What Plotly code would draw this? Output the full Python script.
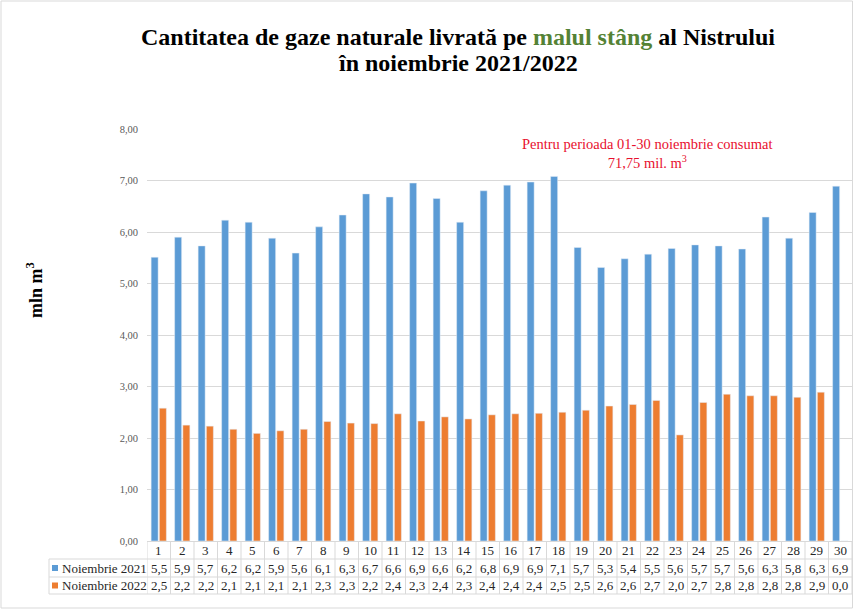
import plotly.graph_objects as go

days = list(range(1, 31))
nov_2021 = [5.51, 5.90, 5.73, 6.23, 6.19, 5.88, 5.59, 6.10, 6.33, 6.74,
            6.68, 6.95, 6.65, 6.19, 6.80, 6.91, 6.97, 7.08, 5.70, 5.31,
            5.48, 5.57, 5.68, 5.75, 5.73, 5.67, 6.29, 5.88, 6.38, 6.89]
nov_2022 = [2.58, 2.25, 2.23, 2.17, 2.09, 2.14, 2.17, 2.32, 2.29, 2.28,
            2.47, 2.33, 2.41, 2.37, 2.45, 2.47, 2.48, 2.50, 2.54, 2.62,
            2.65, 2.73, 2.06, 2.69, 2.85, 2.82, 2.82, 2.79, 2.89, 0.0]
table_2021 = ["5,5", "5,9", "5,7", "6,2", "6,2", "5,9", "5,6", "6,1", "6,3", "6,7",
              "6,6", "6,9", "6,6", "6,2", "6,8", "6,9", "6,9", "7,1", "5,7", "5,3",
              "5,4", "5,5", "5,6", "5,7", "5,7", "5,6", "6,3", "5,8", "6,3", "6,9"]
table_2022 = ["2,5", "2,2", "2,2", "2,1", "2,1", "2,1", "2,1", "2,3", "2,3", "2,2",
              "2,4", "2,3", "2,4", "2,3", "2,4", "2,4", "2,4", "2,5", "2,5", "2,6",
              "2,6", "2,7", "2,0", "2,7", "2,8", "2,8", "2,8", "2,8", "2,9", "0,0"]
series_names = ["Noiembrie 2021", "Noiembrie 2022"]
y_ticks = [0, 1, 2, 3, 4, 5, 6, 7, 8]

BLUE = "#5B9BD5"
ORANGE = "#ED7D31"
FONT = "Liberation Serif"

# pixel geometry
L, R, T, B = 147, 3, 129, 72
W, H = 855, 613
PW = W - L - R
PH = H - T - B


def px(p):
    return (p - L) / PW


def py(p):
    return (H - B - p) / PH


fig = go.Figure()
fig.add_trace(go.Bar(x=days, y=nov_2021, name=series_names[0], marker_color=BLUE))
fig.add_trace(go.Bar(x=days, y=nov_2022, name=series_names[1], marker_color=ORANGE))

shapes = []
grid = "#D9D9D9"
row_top = py(H - B)
row1 = py(559)
row2 = py(577)
row3 = py(594)
left_edge = px(49)
for yy in (row1, row2, row3):
    shapes.append(dict(type="line", xref="paper", yref="paper", x0=left_edge, x1=1, y0=yy, y1=yy,
                       line=dict(color=grid, width=1)))
for d in [0] + days:
    shapes.append(dict(type="line", xref="x", yref="paper", x0=d + 0.5, x1=d + 0.5, y0=row_top, y1=row3,
                       line=dict(color=grid, width=1)))
shapes.append(dict(type="line", xref="paper", yref="paper", x0=left_edge, x1=left_edge, y0=row1, y1=row3,
                   line=dict(color=grid, width=1)))
for i, col in enumerate([BLUE, ORANGE]):
    yc = (row1 + row2) / 2 if i == 0 else (row2 + row3) / 2
    shapes.append(dict(type="rect", xref="paper", yref="paper", x0=px(52), x1=px(58),
                       y0=yc - 3 / PH, y1=yc + 3 / PH, fillcolor=col, line=dict(width=0)))
shapes.append(dict(type="rect", xref="paper", yref="paper", x0=px(1), x1=px(852.5), y0=py(608), y1=py(1),
                   line=dict(color="#D9D9D9", width=1), fillcolor="rgba(0,0,0,0)"))

annotations = []
txt_col = "#262626"
cell_font = dict(family=FONT, size=13, color=txt_col)
for i, d in enumerate(days):
    annotations.append(dict(x=d, y=(row_top + row1) / 2, xref="x", yref="paper", text=str(d), showarrow=False,
                            font=cell_font, xanchor="center", yanchor="middle"))
    annotations.append(dict(x=d, y=(row1 + row2) / 2, xref="x", yref="paper", text=table_2021[i], showarrow=False,
                            font=cell_font, xanchor="center", yanchor="middle"))
    annotations.append(dict(x=d, y=(row2 + row3) / 2, xref="x", yref="paper", text=table_2022[i], showarrow=False,
                            font=cell_font, xanchor="center", yanchor="middle"))
for i, nm in enumerate(series_names):
    yc = (row1 + row2) / 2 if i == 0 else (row2 + row3) / 2
    annotations.append(dict(x=px(60), y=yc, xref="paper", yref="paper", text=nm, showarrow=False,
                            xanchor="left", yanchor="middle", font=cell_font))

title_font = dict(family=FONT, size=24, color="#000000")
annotations.append(dict(x=px(458), y=py(37), xref="paper", yref="paper", showarrow=False,
                        text="<b>Cantitatea de gaze naturale livrată pe <span style='color:#548235'>malul stâng</span> al Nistrului</b>",
                        font=title_font, xanchor="center", yanchor="middle"))
annotations.append(dict(x=px(458), y=py(63), xref="paper", yref="paper", showarrow=False,
                        text="<b>în noiembrie 2021/2022</b>",
                        font=title_font, xanchor="center", yanchor="middle"))
annotations.append(dict(x=px(647), y=py(153), xref="paper", yref="paper", showarrow=False,
                        text="Pentru perioada 01-30 noiembrie consumat<br>71,75 mil. m<sup>3</sup>",
                        font=dict(family=FONT, size=14.5, color="#E8102E"), align="center",
                        xanchor="center", yanchor="middle"))
annotations.append(dict(x=px(34), y=py(290), xref="paper", yref="paper", showarrow=False, textangle=-90,
                        text="<b>mln m<sup>3</sup></b>", font=dict(family=FONT, size=18, color="#000000"),
                        xanchor="center", yanchor="middle"))

fig.update_layout(
    width=W, height=H,
    margin=dict(l=L, r=R, t=T, b=B),
    paper_bgcolor="white", plot_bgcolor="white",
    separators=",.",
    barmode="group", bargap=0.3, bargroupgap=0.15,
    showlegend=False,
    shapes=shapes, annotations=annotations,
    xaxis=dict(range=[0.5, 30.5], showticklabels=False, showgrid=False, zeroline=False,
               showline=True, linecolor="#D9D9D9", ticks=""),
    yaxis=dict(range=[0, 8], tickvals=y_ticks, tickformat=".2f", showgrid=True, gridcolor="#D9D9D9",
               zeroline=False, showline=False, ticks="", ticklabelstandoff=8,
               tickfont=dict(family=FONT, size=10.5, color="#595959")),
)

fig.write_html("out.html", config={"displayModeBar": False},
               post_script="document.body.style.margin='0';document.body.style.overflow='hidden';")
